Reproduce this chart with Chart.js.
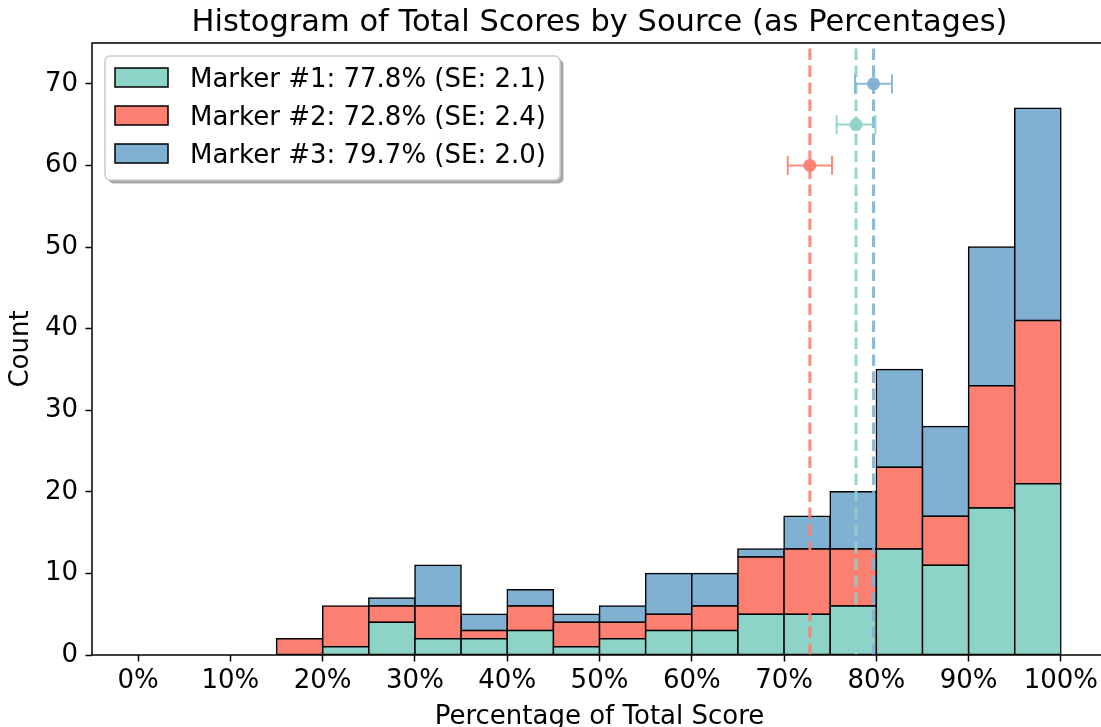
<!DOCTYPE html>
<html>
<head>
<meta charset="utf-8">
<script src="https://cdn.jsdelivr.net/npm/chart.js@4.4.1/dist/chart.umd.min.js"></script>
<style>
  html, body { margin: 0; padding: 0; background: #ffffff; overflow: hidden; width: 1101px; height: 727px; }
  #wrap { position: absolute; left: 0; top: 0; width: 1110px; height: 740px; }
</style>
</head>
<body>
<div id="wrap"><canvas id="c" width="1110" height="740"></canvas></div>
<script>
// ---- data ----
const binCenters = [2.5, 7.5, 12.5, 17.5, 22.5, 27.5, 32.5, 37.5, 42.5, 47.5,
                    52.5, 57.5, 62.5, 67.5, 72.5, 77.5, 82.5, 87.5, 92.5, 97.5];
const marker1Counts = [0, 0, 0, 0, 1, 4, 2, 2, 3, 1, 2, 3, 3, 5, 5, 6, 13, 11, 18, 21];
const marker2Counts = [0, 0, 0, 2, 5, 2, 4, 1, 3, 3, 2, 2, 3, 7, 8, 7, 10, 6, 15, 20];
const marker3Counts = [0, 0, 0, 0, 0, 1, 5, 2, 2, 1, 2, 5, 4, 1, 4, 7, 12, 11, 17, 26];
const seriesNames = ['Marker #1', 'Marker #2', 'Marker #3'];
const means = [77.8, 72.8, 79.7];
const standardErrors = [2.1, 2.4, 2.0];
const errorBarLevels = [65, 60, 70];
const xTickValues = [0, 10, 20, 30, 40, 50, 60, 70, 80, 90, 100];
const yTickValues = [0, 10, 20, 30, 40, 50, 60, 70];

// ---- styling ----
const FONT = 'DejaVu Sans';
const colors = ['#8dd3c7', '#fb8072', '#80b1d3'];
const rgba = (hex, a) => {
  const n = parseInt(hex.slice(1), 16);
  return `rgba(${(n >> 16) & 255},${(n >> 8) & 255},${n & 255},${a})`;
};
const allCounts = [marker1Counts, marker2Counts, marker3Counts];
const legendLabels = seriesNames.map((n, i) =>
  `${n}: ${means[i].toFixed(1)}% (SE: ${standardErrors[i].toFixed(1)})`);

const datasets = [];
allCounts.forEach((counts, i) => {
  datasets.push({
    type: 'bar',
    label: legendLabels[i],
    data: binCenters.map((x, j) => ({ x: x, y: counts[j] })),
    backgroundColor: colors[i],
    borderColor: '#000000',
    borderWidth: 1.5,
    borderSkipped: false,
    inflateAmount: 0.75,
    barPercentage: 1,
    categoryPercentage: 1,
    stack: 'hist',
    order: 10
  });
});
means.forEach((m, i) => {
  datasets.push({
    type: 'line',
    label: 'mean ' + seriesNames[i],
    data: [{ x: m, y: 0 }, { x: m, y: 75 }],
    borderColor: rgba(colors[i], 0.9),
    borderWidth: 3,
    borderDash: [11.5, 5.5],
    pointRadius: 0,
    fill: false,
    order: 5
  });
});
means.forEach((m, i) => {
  const se = standardErrors[i];
  const y = errorBarLevels[i];
  datasets.push({
    type: 'line',
    label: 'se ' + seriesNames[i],
    data: [{ x: m - se, y: y }, { x: m + se, y: y }],
    borderColor: rgba(colors[i], 0.9),
    borderWidth: 2,
    pointStyle: 'line',
    pointRotation: 90,
    pointRadius: 9.5,
    pointBorderWidth: 2,
    pointBorderColor: rgba(colors[i], 0.9),
    fill: false,
    order: 2
  });
  datasets.push({
    type: 'line',
    label: 'mean point ' + seriesNames[i],
    data: [{ x: m, y: y }],
    showLine: false,
    pointStyle: 'circle',
    pointRadius: 6.5,
    pointBorderWidth: 0,
    pointBackgroundColor: rgba(colors[i], 0.95),
    order: 1
  });
});

const spinesPlugin = {
  id: 'spines',
  afterDatasetsDraw(chart) {
    const { ctx, chartArea: a } = chart;
    ctx.save();
    ctx.strokeStyle = '#000000';
    ctx.lineWidth = 1.5;
    ctx.strokeRect(a.left, a.top, a.right - a.left, a.bottom - a.top);
    ctx.restore();
  }
};

const legendPlugin = {
  id: 'boxLegend',
  afterDraw(chart) {
    const { ctx, chartArea: a } = chart;
    const lx = a.left + 13, ly = a.top + 13, lw = 455, lh = 124, r = 5;
    const rr = (x, y, w, h) => {
      ctx.beginPath();
      ctx.moveTo(x + r, y);
      ctx.arcTo(x + w, y, x + w, y + h, r);
      ctx.arcTo(x + w, y + h, x, y + h, r);
      ctx.arcTo(x, y + h, x, y, r);
      ctx.arcTo(x, y, x + w, y, r);
      ctx.closePath();
    };
    ctx.save();
    rr(lx + 3.5, ly + 3.5, lw, lh);
    ctx.fillStyle = 'rgba(0,0,0,0.35)';
    ctx.fill();
    rr(lx, ly, lw, lh);
    ctx.fillStyle = '#ffffff';
    ctx.fill();
    ctx.strokeStyle = '#cccccc';
    ctx.lineWidth = 1.5;
    ctx.stroke();
    ctx.font = `26px "${FONT}"`;
    ctx.textBaseline = 'alphabetic';
    ctx.textAlign = 'left';
    legendLabels.forEach((txt, i) => {
      const cy = ly + 21.5 + i * 38;
      ctx.fillStyle = colors[i];
      ctx.fillRect(lx + 10, cy - 9.5, 53, 19);
      ctx.strokeStyle = '#000000';
      ctx.lineWidth = 1.5;
      ctx.strokeRect(lx + 10, cy - 9.5, 53, 19);
      ctx.fillStyle = '#000000';
      ctx.fillText(txt, lx + 85, cy + 9.3);
    });
    ctx.restore();
  }
};

new Chart(document.getElementById('c'), {
  type: 'bar',
  data: { datasets: datasets },
  options: {
    responsive: false,
    animation: false,
    devicePixelRatio: 1,
    events: [],
    layout: { autoPadding: false, padding: { left: 0, right: 3, top: 0, bottom: 0 } },
    plugins: {
      legend: { display: false },
      tooltip: { enabled: false },
      title: {
        display: true,
        fullSize: false,
        text: 'Histogram of Total Scores by Source (as Percentages)',
        color: '#000000',
        font: { family: FONT, size: 30.5, weight: 'normal', lineHeight: 1.2 },
        padding: { top: 4.4, bottom: 2.0 }
      }
    },
    scales: {
      x: {
        type: 'linear',
        min: -5,
        max: 105,
        offset: false,
        afterBuildTicks: (s) => { s.ticks = xTickValues.map(v => ({ value: v })); },
        afterFit: (s) => { s.height = 85; },
        ticks: {
          color: '#000000',
          padding: 4.5,
          maxRotation: 0,
          autoSkip: false,
          font: { family: FONT, size: 26 },
          callback: (v) => v + '%'
        },
        grid: { display: true, offset: false, drawOnChartArea: false, drawTicks: true, tickLength: 6.5, tickWidth: 1.5, tickColor: '#000000' },
        border: { display: false },
        title: {
          display: true,
          text: 'Percentage of Total Score',
          color: '#000000',
          font: { family: FONT, size: 26, lineHeight: 1.2 },
          padding: { top: 0, bottom: 7.5 }
        }
      },
      y: {
        type: 'linear',
        min: 0,
        max: 75,
        afterBuildTicks: (s) => { s.ticks = yTickValues.map(v => ({ value: v })); },
        afterFit: (s) => { s.width = 92; },
        ticks: {
          color: '#000000',
          padding: 7.5,
          autoSkip: false,
          font: { family: FONT, size: 26 }
        },
        grid: { display: true, offset: false, drawOnChartArea: false, drawTicks: true, tickLength: 6.5, tickWidth: 1.5, tickColor: '#000000' },
        border: { display: false },
        title: {
          display: true,
          text: 'Count',
          color: '#000000',
          font: { family: FONT, size: 26, lineHeight: 1.2 },
          padding: { top: 6, bottom: 0 }
        }
      }
    }
  },
  plugins: [spinesPlugin, legendPlugin]
});
</script>
</body>
</html>
